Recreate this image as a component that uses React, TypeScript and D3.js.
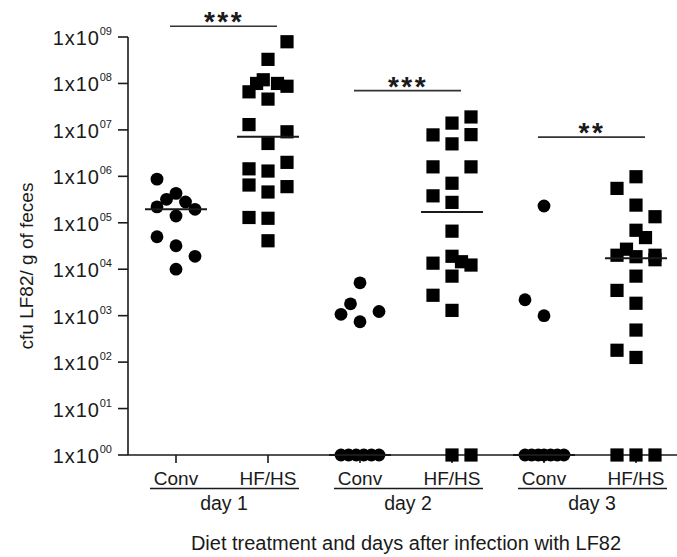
import React from "react";
import * as d3 from "d3";

// ---- data ----
const groups = ["d1c", "d1h", "d2c", "d2h", "d3c", "d3h"];
const groupLabels = ["Conv", "HF/HS", "Conv", "HF/HS", "Conv", "HF/HS"];
const dayLabels = ["day 1", "day 2", "day 3"];
const yTickExps = [0, 1, 2, 3, 4, 5, 6, 7, 8, 9];
const sigLabels = ["***", "***", "**"];
const sigValues = [1.7e9, 7e7, 7e6];

// values (cfu/g) ; zero counts plotted at 1
const d1ConvValues = [8.7e5, 4.3e5, 3.2e5, 2.2e5, 2.8e5, 1.95e5, 1.4e5, 5.0e4, 3.2e4, 1.9e4, 1.0e4];
const d1ConvLanes = [-2, 0, -1, -2, 1, 2, 0, -2, 0, 2, 0];

const d1HfValues = [7.9e8, 3.3e8, 1.0e8, 1.2e8, 6.6e7, 1.0e8, 8.7e7, 4.6e7, 1.3e7, 9.1e6, 5.1e6, 2.0e6, 1.45e6, 1.3e6, 6.5e5, 6.0e5, 4.6e5, 1.3e5, 1.25e5, 4.1e4];
const d1HfLanes = [2, 0, -1.2, -0.5, -2, 1, 2, 0, -2, 2, 0, 2, -2, 0, -2, 2, 0, -2, 0, 0];

const d2ConvValues = [5.1e3, 1.8e3, 1.07e3, 1.23e3, 7.4e2, 1, 1, 1, 1, 1, 1];
const d2ConvLanes = [0, -1, -2, 2, 0, -2, -1.2, -0.4, 0.4, 1.2, 2];

const d2HfValues = [1.9e7, 1.4e7, 7.8e6, 7.9e6, 5.0e6, 1.6e6, 1.6e6, 7.1e5, 3.8e5, 2.75e5, 6.6e4, 1.9e4, 1.35e4, 1.45e4, 1.23e4, 7.1e3, 2.75e3, 1.3e3, 1, 1];
const d2HfLanes = [2, 0, -2, 2, 0, -2, 2, 0, -2, 0, 0, 0, -2, 1, 2, 0, -2, 0, 0, 2];

const d3ConvValues = [2.3e5, 2.2e3, 1.0e3, 1, 1, 1, 1, 1, 1, 1];
const d3ConvLanes = [0, -2, 0, -2, -1.3, -0.6, 0, 0.7, 1.4, 2.1];

const d3HfValues = [9.8e5, 5.5e5, 2.4e5, 1.35e5, 6.9e4, 4.8e4, 2.0e4, 2.7e4, 1.86e4, 2.0e4, 1.6e4, 7.1e3, 3.5e3, 1.85e3, 4.9e2, 1.8e2, 1.26e2, 1, 1, 1];
const d3HfLanes = [0, -2, 0, 2, 0, 1, -2, -1, 0, 2, 2, 0, -2, 0, 0, -2, 0, -2, 0, 2];

const series = [
  { values: d1ConvValues, lanes: d1ConvLanes, shape: "circle" },
  { values: d1HfValues, lanes: d1HfLanes, shape: "square" },
  { values: d2ConvValues, lanes: d2ConvLanes, shape: "circle" },
  { values: d2HfValues, lanes: d2HfLanes, shape: "square" },
  { values: d3ConvValues, lanes: d3ConvLanes, shape: "circle" },
  { values: d3HfValues, lanes: d3HfLanes, shape: "square" },
];

const W = 677;
const H = 557;
const FONT = "'Liberation Sans', Arial, sans-serif";
const INK = "#1a1a1a";

export default function App() {
  const y = d3.scaleLog().domain([1, 1e9]).range([455, 37]);
  const x = d3.scalePoint<string>().domain(groups).range([176, 636]);
  const lane = d3.scaleLinear().domain([-1, 1]).range([-9.5, 9.5]);
  const axisX = 128;
  const axisY = y(1);

  const pairs = [0, 1, 2];

  return (
    <div style={{ position: "fixed", left: 0, top: 0, width: W, height: H, overflow: "hidden" }}>
      <svg width={W} height={H} style={{ display: "block", background: "#fff" }} fontFamily={FONT}>
        {/* y axis */}
        <line x1={axisX} x2={axisX} y1={y(1e9)} y2={axisY} stroke={INK} strokeWidth={1.6} />
        {yTickExps.map((e) => {
          const yy = y(Math.pow(10, e));
          return (
            <g key={e}>
              <line x1={axisX - 10} x2={axisX} y1={yy} y2={yy} stroke={INK} strokeWidth={1.6} />
              <text x={112} y={yy + 8} textAnchor="end" fontSize={20} letterSpacing={0.9} fill={INK}>
                1x10
                <tspan fontSize={11} dy={-10} letterSpacing={0}>
                  {String(e).padStart(2, "0")}
                </tspan>
              </text>
            </g>
          );
        })}
        <text
          transform={`translate(33,266) rotate(-90)`}
          textAnchor="middle"
          fontSize={19}
          fill={INK}
        >
          cfu LF82/ g of feces
        </text>

        {/* x axis */}
        <line x1={axisX} x2={W} y1={axisY} y2={axisY} stroke={INK} strokeWidth={1.6} />
        {groups.map((g, i) => (
          <g key={g}>
            <line x1={x(g)} x2={x(g)} y1={axisY} y2={axisY + 8} stroke={INK} strokeWidth={1.6} />
            <text x={x(g)} y={485} textAnchor="middle" fontSize={19} fill={INK}>
              {groupLabels[i]}
            </text>
          </g>
        ))}
        {pairs.map((p) => {
          const x0 = x(groups[p * 2])!;
          const x1 = x(groups[p * 2 + 1])!;
          return (
            <g key={p}>
              <line x1={x0 - 26} x2={x1 + 31} y1={488.5} y2={488.5} stroke={INK} strokeWidth={1.6} />
              <text x={(x0 + x1) / 2 + 2} y={510} textAnchor="middle" fontSize={19.5} fill={INK}>
                {dayLabels[p]}
              </text>
            </g>
          );
        })}
        <text x={406} y={550} textAnchor="middle" fontSize={20} fill={INK}>
          Diet treatment and days after infection with LF82
        </text>

        {/* points */}
        {series.map((s, si) => {
          const cx = x(groups[si])!;
          return (
            <g key={si}>
              {s.values.map((v, j) => {
                const px = cx + lane(s.lanes[j]);
                const py = y(v);
                return s.shape === "circle" ? (
                  <circle key={j} cx={px} cy={py} r={6.4} fill="#000" />
                ) : (
                  <rect key={j} x={px - 6.6} y={py - 6.6} width={13.2} height={13.2} fill="#000" />
                );
              })}
              {(() => {
                const med = d3.median(s.values)!;
                const my = y(med);
                return <line x1={cx - 31} x2={cx + 31} y1={my} y2={my} stroke={INK} strokeWidth={2} />;
              })()}
            </g>
          );
        })}

        {/* significance */}
        {pairs.map((p) => {
          const x0 = x(groups[p * 2])!;
          const x1 = x(groups[p * 2 + 1])!;
          const by = y(sigValues[p]);
          return (
            <g key={p}>
              <line x1={x0 - 6} x2={x1 + 9} y1={by} y2={by} stroke="#333" strokeWidth={1.6} />
              <text
                x={(x0 + x1) / 2 + 2}
                y={by + 5}
                textAnchor="middle"
                fontSize={28}
                fontWeight="bold"
                letterSpacing={2.5}
                fill={INK}
              >
                {sigLabels[p]}
              </text>
            </g>
          );
        })}
      </svg>
    </div>
  );
}
